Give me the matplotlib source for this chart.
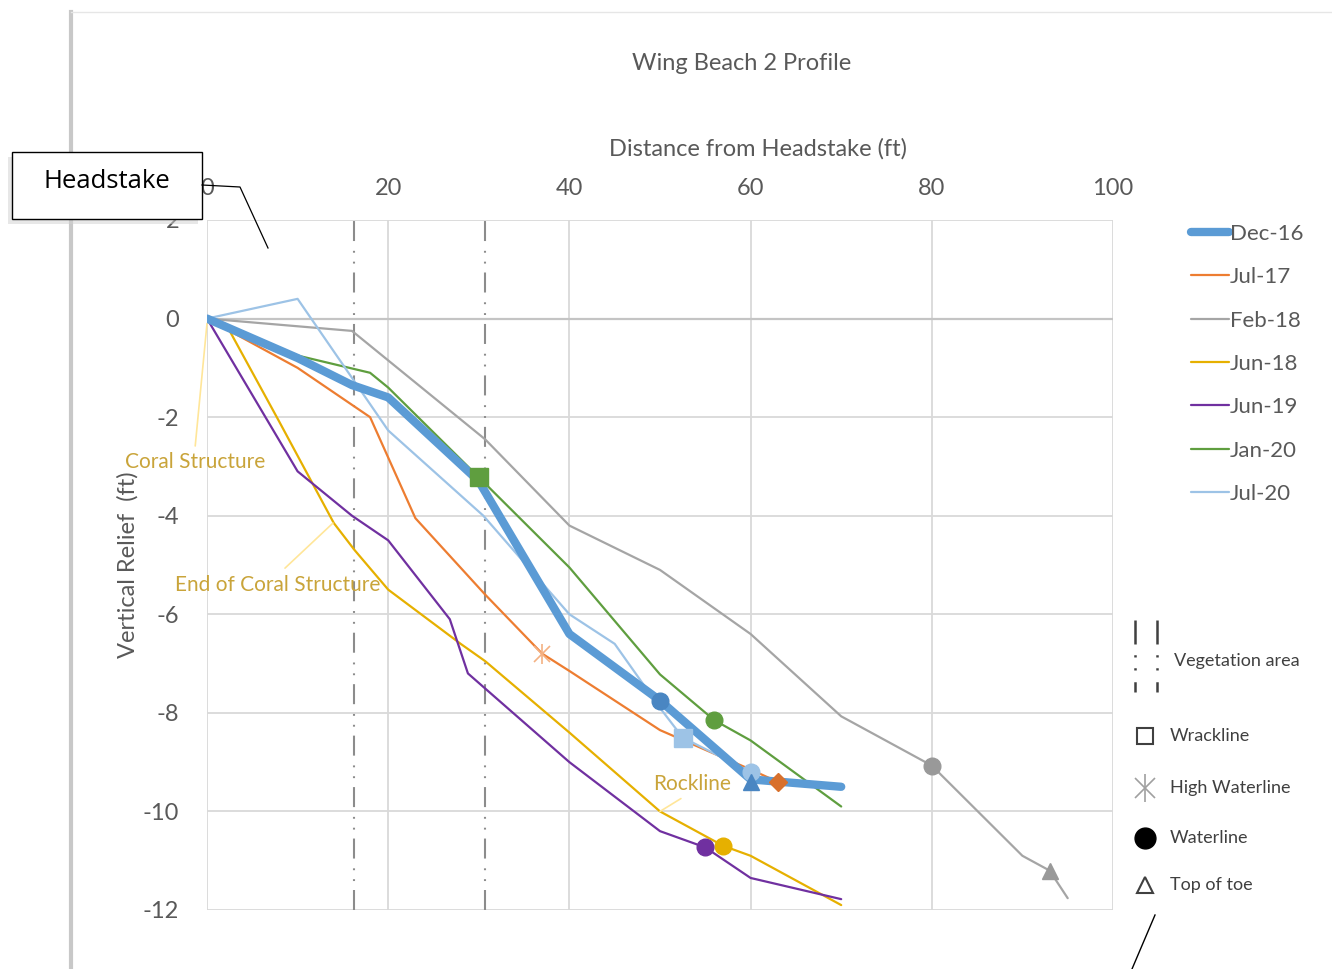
import matplotlib.pyplot as plt
from matplotlib.lines import Line2D
from matplotlib.patches import Rectangle
from matplotlib.transforms import Bbox

W, H = 1332, 969

# profile series (distance ft, relief ft)
series_names = ["Dec-16", "Jul-17", "Feb-18", "Jun-18", "Jun-19", "Jan-20", "Jul-20"]

dec16_x = [0, 10, 16, 20, 30, 40, 50, 60, 70]
dec16_y = [0, -0.8, -1.35, -1.6, -3.3, -6.4, -7.75, -9.35, -9.5]

jul17_x = [0, 10, 18, 23, 30.7, 37, 40, 50, 60, 63]
jul17_y = [0, -1.0, -2.0, -4.05, -5.6, -6.8, -7.15, -8.35, -9.15, -9.4]

feb18_x = [0, 16, 30.7, 40, 50, 60, 70, 80, 90, 93, 95]
feb18_y = [0, -0.25, -2.45, -4.2, -5.1, -6.4, -8.07, -9.07, -10.9, -11.2, -11.76]

jun18_x = [0, 2.5, 8, 14, 16.3, 20, 28, 30.7, 40, 50, 57, 60, 70]
jun18_y = [0, -0.25, -2.1, -4.15, -4.7, -5.5, -6.6, -6.95, -8.4, -10.0, -10.7, -10.9, -11.9]

jun19_x = [0, 10, 16, 20, 26.8, 28.8, 40, 50, 55, 60, 70]
jun19_y = [0, -3.1, -4.0, -4.5, -6.1, -7.2, -9.0, -10.4, -10.73, -11.35, -11.78]

jan20_x = [0, 10, 18, 20, 30, 40, 50, 56, 60, 70]
jan20_y = [0, -0.75, -1.1, -1.4, -3.22, -5.05, -7.22, -8.15, -8.56, -9.9]

jul20_x = [0, 10, 20, 30.5, 40, 45, 50, 52.5, 60]
jul20_y = [0, 0.4, -2.27, -4.0, -6.0, -6.6, -7.9, -8.5, -9.2]

# feature markers
waterline_series = ["Dec-16", "Feb-18", "Jun-18", "Jun-19", "Jan-20", "Jul-20"]
waterline_x = [50, 80, 57, 55, 56, 60]
waterline_y = [-7.75, -9.07, -10.7, -10.73, -8.15, -9.2]

toe_series = ["Dec-16", "Feb-18"]
toe_x = [60, 93]
toe_y = [-9.4, -11.2]

wrack_series = ["Jan-20", "Jul-20"]
wrack_x = [30, 52.5]
wrack_y = [-3.22, -8.5]

high_water_x = [37]
high_water_y = [-6.8]

jul17_end_x = [63]
jul17_end_y = [-9.4]

vegetation_x = [16.2, 30.7]

x_ticks = [0, 20, 40, 60, 80, 100]
y_ticks = [-12, -10, -8, -6, -4, -2, 0, 2]

colors = {
    "Dec-16": "#5b9bd5",
    "Jul-17": "#ed7d31",
    "Feb-18": "#a5a5a5",
    "Jun-18": "#e6b000",
    "Jun-19": "#7030a0",
    "Jan-20": "#5f9e3f",
    "Jul-20": "#9dc3e6",
}
marker_colors = dict(colors)
marker_colors["Dec-16"] = "#4a86c2"
marker_colors["Feb-18"] = "#999999"

TXT = "#595959"
ANN = "#c9a43a"
VEG_DASH = (9.6, 4.3, 0.9, 4.3, 0.9, 4.7)
plt.rcParams["font.family"] = ["Lato", "DejaVu Sans"]
plt.rcParams["axes.unicode_minus"] = False


def fx(px):
    return px / W


def fy(py):
    return 1 - py / H


fig = plt.figure(figsize=(W / 100, H / 100), dpi=100)
ax = fig.add_axes([fx(207), fy(910), fx(1113) - fx(207), fy(220) - fy(910)])

ax.set_xlim(0, 100)
ax.set_ylim(-12, 2)
ax.set_xticks(x_ticks)
ax.set_yticks(y_ticks)
ax.grid(True, color="#d9d9d9", linewidth=1.3)
ax.set_axisbelow(True)
for s in ax.spines.values():
    s.set_visible(False)
ax.axhline(0, color="#c4c4c4", linewidth=1.6, zorder=1)
ax.xaxis.tick_top()
ax.xaxis.set_label_position("top")
ax.tick_params(axis="x", length=0, pad=15, labelsize=17, labelcolor=TXT)
ax.tick_params(axis="y", length=0, pad=20, labelsize=17, labelcolor=TXT)
ax.set_xlabel("Distance from Headstake (ft)", fontsize=17, color=TXT)
ax.xaxis.set_label_coords(0.608, 1.094)
ax.set_ylabel("Vertical Relief  (ft)", fontsize=17, color=TXT)
ax.yaxis.set_label_coords(-0.076, 0.5)

# vegetation boundaries
for vx in vegetation_x:
    ax.axvline(vx, color="#8c8c8c", linewidth=1.5, dashes=VEG_DASH, zorder=2)

all_x = [dec16_x, jul17_x, feb18_x, jun18_x, jun19_x, jan20_x, jul20_x]
all_y = [dec16_y, jul17_y, feb18_y, jun18_y, jun19_y, jan20_y, jul20_y]
handles = []
for name, xs, ys in zip(series_names, all_x, all_y):
    lw = 6 if name == "Dec-16" else 1.6
    (ln,) = ax.plot(xs, ys, color=colors[name], linewidth=lw, solid_capstyle="round",
                    zorder=4 if name == "Dec-16" else 3, label=name)
    handles.append(ln)

for name, x, y in zip(waterline_series, waterline_x, waterline_y):
    ax.plot(x, y, "o", color=marker_colors[name], markersize=12, zorder=6)
for name, x, y in zip(toe_series, toe_x, toe_y):
    ax.plot(x, y, "^", color=marker_colors[name], markersize=12, zorder=6)
for name, x, y in zip(wrack_series, wrack_x, wrack_y):
    ax.plot(x, y, "s", color=marker_colors[name], markersize=13, zorder=6)
ax.plot(high_water_x, high_water_y, "x", color="#f4b183", markersize=11, mew=1.2, zorder=6)
ax.plot(high_water_x, high_water_y, "|", color="#f4b183", markersize=15, mew=1.2, zorder=6)
ax.plot(jul17_end_x, jul17_end_y, "D", color="#d8702c", markersize=9, zorder=6)

# annotations
ax.annotate("Coral Structure", xy=(0, -0.1), xytext=(-9.1, -2.9), color=ANN, fontsize=15,
            ha="left", va="center", annotation_clip=False,
            arrowprops=dict(arrowstyle="-", color="#ffe699", lw=1.2, shrinkA=2, shrinkB=0,
                            relpos=(0.5, 1.0)))
ax.annotate("End of Coral Structure", xy=(13.9, -4.15), xytext=(-3.5, -5.4), color=ANN,
            fontsize=15, ha="left", va="center", annotation_clip=False,
            arrowprops=dict(arrowstyle="-", color="#ffe699", lw=1.2, shrinkA=4, shrinkB=0,
                            relpos=(0.5, 1.0)))
ax.annotate("Rockline", xy=(50, -10.0), xytext=(49.2, -9.45), color=ANN, fontsize=15,
            ha="left", va="center",
            arrowprops=dict(arrowstyle="-", color="#ffe699", lw=1.2, shrinkA=2, shrinkB=0,
                            relpos=(0.45, 0.0)))

leg = ax.legend(handles=handles, loc="upper left", bbox_to_anchor=(fx(1182), fy(215)),
                bbox_transform=fig.transFigure, frameon=False, fontsize=16,
                labelcolor=TXT, handlelength=1.7, handletextpad=0.05, labelspacing=1.05,
                borderaxespad=0)

# feature key
for kx in (1135, 1157):
    fig.add_artist(Line2D([fx(kx), fx(kx)], [fy(620), fy(692)], color="#404040", lw=1.8,
                          dashes=VEG_DASH))
veg = fig.text(fx(1174), fy(661), "Vegetation area", fontsize=13, color="#404040",
               va="center", clip_on=True)
veg.set_clip_box(Bbox.from_extents(0, 0, 1300, H))
key_items = [("s", "Wrackline", 736), ("hw", "High Waterline", 788),
             ("o", "Waterline", 838), ("^", "Top of toe", 885)]
for mk, label, py in key_items:
    if mk == "s":
        fig.add_artist(Line2D([fx(1145)], [fy(py)], marker="s", ms=11, mfc="white",
                              mec="#404040", mew=1.5, ls=""))
    elif mk == "^":
        fig.add_artist(Line2D([fx(1145)], [fy(py)], marker="^", ms=12, mfc="white",
                              mec="#404040", mew=1.5, ls=""))
    elif mk == "o":
        fig.add_artist(Line2D([fx(1145)], [fy(py)], marker="o", ms=15, color="black", ls=""))
    else:
        fig.add_artist(Line2D([fx(1145)], [fy(py)], marker="x", ms=14, mec="#a0a0a0",
                              mew=1.2, ls=""))
        fig.add_artist(Line2D([fx(1145)], [fy(py)], marker="|", ms=20, mec="#a0a0a0",
                              mew=1.2, ls=""))
    fig.text(fx(1170), fy(py), label, fontsize=13, color="#404040", va="center")
fig.add_artist(Line2D([fx(1155), fx(1132)], [fy(915), fy(969)], color="black", lw=1))

# page edges
fig.add_artist(Line2D([fx(71), fx(71)], [fy(12), 0], color="#c8c8c8", lw=3))
fig.add_artist(Line2D([fx(71), 1], [fy(12), fy(12)], color="#e6e6e6", lw=1))

# headstake callout
fig.add_artist(Rectangle((fx(8), fy(224)), fx(190), fy(152) - fy(219), facecolor="#d0d0d0",
                         edgecolor="none", alpha=0.5, zorder=9))
fig.add_artist(Rectangle((fx(12), fy(219)), fx(190), fy(152) - fy(219), facecolor="white",
                         edgecolor="black", lw=1, zorder=10))
fig.text(fx(107), fy(181), "Headstake", fontsize=18.5, color="black", ha="center",
         va="center", zorder=11, family=["Open Sans", "DejaVu Sans"])
fig.add_artist(Line2D([fx(202), fx(240), fx(268)], [fy(185), fy(187), fy(248)],
                      color="black", lw=0.9, zorder=10))

fig.text(fx(742), fy(63), "Wing Beach 2 Profile", fontsize=17, color=TXT, ha="center",
         va="center")

fig.savefig("out.png", dpi=100)
